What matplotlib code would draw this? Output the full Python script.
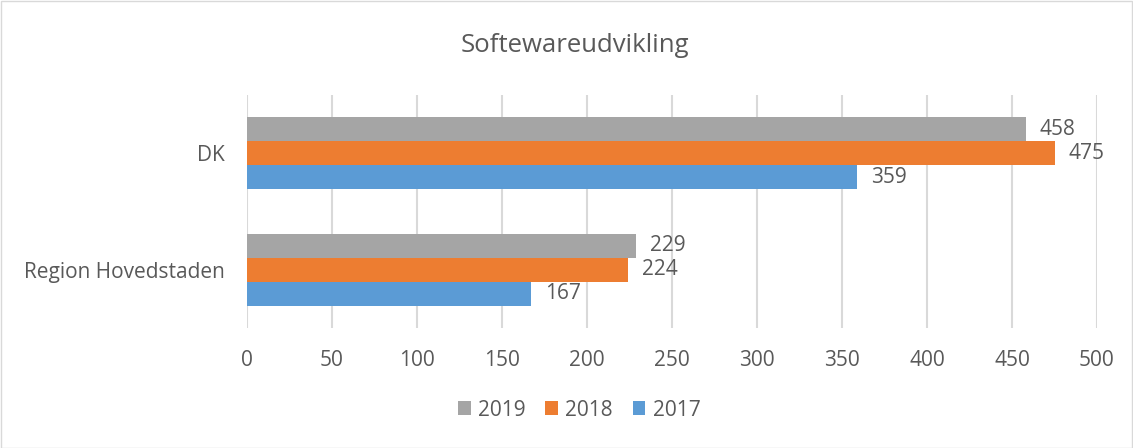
import matplotlib
matplotlib.use("Agg")
import matplotlib.pyplot as plt
from matplotlib.patches import Rectangle
import numpy as np

plt.rcParams['font.family'] = ['Open Sans', 'DejaVu Sans']

categories = ["Region Hovedstaden", "DK"]
years = ["2019", "2018", "2017"]
values = {
    "2019": [229, 458],
    "2018": [224, 475],
    "2017": [167, 359],
}
colors = {"2019": "#A5A5A5", "2018": "#ED7D31", "2017": "#5B9BD5"}
xticks = [0, 50, 100, 150, 200, 250, 300, 350, 400, 450, 500]
title = "Softewareudvikling"

text_color = "#595959"
fs = 15
fig = plt.figure(figsize=(11.33, 4.48), dpi=100)
ax = fig.add_axes([247/1133, (448-328)/448, (1097-247)/1133, (328-95)/448])

bh = 0.206
offsets = {"2019": bh, "2018": 0.0, "2017": -bh}
y = np.arange(len(categories))
for yr in years:
    bars = ax.barh(y + offsets[yr], values[yr], height=bh, color=colors[yr], label=yr, zorder=3)
    for b, v in zip(bars, values[yr]):
        ax.annotate(str(v), (b.get_width(), b.get_y() + b.get_height()/2),
                    xytext=(14, 0), textcoords='offset pixels', va='center', ha='left',
                    fontsize=fs, color=text_color)

ax.set_xlim(0, 500)
ax.set_ylim(-0.5, 1.5)
ax.set_xticks(xticks)
ax.set_xticklabels([str(t) for t in xticks])
ax.set_yticks(y)
ax.set_yticklabels(categories)
ax.tick_params(axis='x', length=0, pad=16, labelsize=fs, labelcolor=text_color)
ax.tick_params(axis='y', length=0, pad=16, labelsize=fs, labelcolor=text_color)
for s in ax.spines.values():
    s.set_visible(False)
ax.grid(axis='x', color='#D9D9D9', linewidth=1.5, zorder=0)
ax.set_axisbelow(True)

fig.text(575/1133, 1 - 45/448, title, ha='center', va='center', fontsize=18.5, color=text_color)

handles, labels = ax.get_legend_handles_labels()
fig.legend(handles, labels, loc='center', bbox_to_anchor=(579/1133, 1 - 410/448), ncol=3,
           frameon=False, fontsize=fs, labelcolor=text_color, handlelength=0.62, handleheight=0.62,
           handletextpad=0.34, columnspacing=0.95)

fig.patches.append(Rectangle((0.5/1133, 0.5/448), 1 - 1.5/1133, 1 - 1.5/448, transform=fig.transFigure,
                             fill=False, edgecolor='#D9D9D9', linewidth=1))
fig.savefig("out.png", dpi=100)
